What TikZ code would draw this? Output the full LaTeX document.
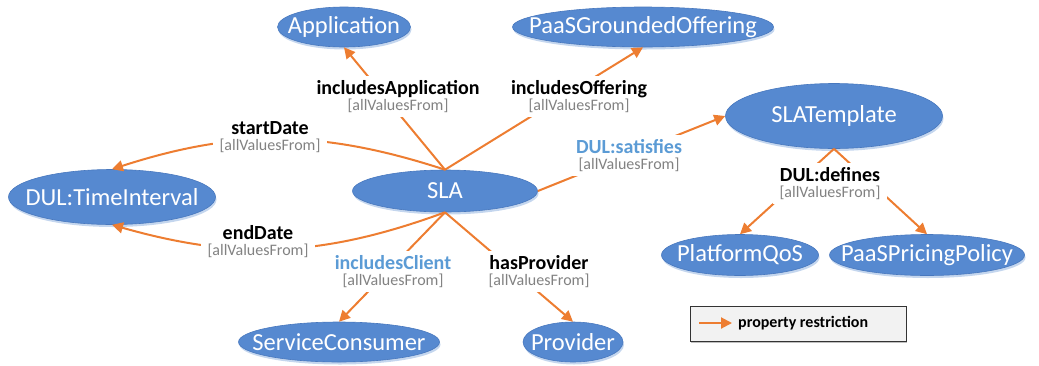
\documentclass[tikz,border=0pt]{standalone}
\usepackage{fontspec}
\setmainfont{Carlito}
\usetikzlibrary{shapes.geometric,arrows.meta,shadows}
\definecolor{nodeblue}{RGB}{86,137,208}
\definecolor{nodeedge}{RGB}{72,120,190}
\definecolor{shadowblue}{RGB}{196,214,238}
\definecolor{relorange}{RGB}{237,125,49}
\definecolor{lblgray}{RGB}{130,130,130}
\definecolor{lblblue}{RGB}{91,155,213}
\definecolor{leggray}{RGB}{242,242,242}
\newcommand{\plab}[3][black]{{\color{#1}\bfseries\fontsize{20}{16}\selectfont #2}\\{\color{lblgray}#3}}
\tikzset{
 cls/.style={ellipse, fill=nodeblue, draw=nodeedge, line width=0.6pt, inner sep=0pt,
   drop shadow={shadow xshift=1pt, shadow yshift=-2.5pt, fill=shadowblue, opacity=1}},
 clstext/.style={text=white, inner sep=0pt, font=\fontsize{24.5}{28}\selectfont},
 rel/.style={draw=relorange, line width=2pt, -{Triangle[length=11pt,width=11pt]}},
 plbl/.style={fill=white, inner xsep=7pt, inner ysep=4pt, align=center, font=\fontsize{16}{16}\selectfont},
 legbox/.style={draw=black!80, fill=leggray, line width=0.8pt, minimum width=216pt, minimum height=35pt, inner sep=0pt,
   drop shadow={shadow xshift=1pt, shadow yshift=-1.5pt, fill=black!25, opacity=1}},
 legtext/.style={font=\bfseries\fontsize{16}{18}\selectfont, inner sep=0pt, anchor=west},
}
\begin{document}
\begin{tikzpicture}[x=1pt,y=-1pt]
\useasboundingbox (0,0) rectangle (1039,365);
% classes
\node[cls, minimum width=133pt, minimum height=40pt, label={[clstext]center:Application}] (app) at (344,27) {};
\node[cls, minimum width=261pt, minimum height=40pt, label={[clstext]center:PaaSGroundedOffering}] (off) at (643,27) {};
\node[cls, minimum width=217pt, minimum height=65pt, label={[clstext]center:SLATemplate}] (tmpl) at (834,116) {};
\node[cls, minimum width=207pt, minimum height=55pt, label={[clstext]center:DUL:TimeInterval}] (ti) at (112,197) {};
\node[cls, minimum width=185pt, minimum height=42pt, label={[clstext]center:SLA}] (sla) at (445,191) {};
\node[cls, minimum width=201pt, minimum height=40pt, label={[clstext]center:ServiceConsumer}] (sc) at (339,342) {};
\node[cls, minimum width=100pt, minimum height=40pt, label={[clstext]center:Provider}] (prov) at (573,342) {};
\node[cls, minimum width=157pt, minimum height=41pt, label={[clstext]center:PlatformQoS}] (qos) at (740,255) {};
\node[cls, minimum width=195pt, minimum height=41pt, label={[clstext]center:PaaSPricingPolicy}] (pp) at (927,255) {};
% relations
\draw[rel] (sla.north) -- (app.south);
\draw[rel] (sla.north) -- (off.south);
\draw[rel] (sla.north) to[bend right=18] (ti.north);
\draw[rel] (sla.south) to[bend left=18] (ti.south);
\draw[rel] (sla.south) -- (sc.north);
\draw[rel] (sla.south) -- (prov.north);
\draw[rel] (sla.east) -- (tmpl.west);
\draw[rel] (tmpl.south) -- (qos.north);
\draw[rel] (tmpl.south) -- (pp.north);
% labels
\node[plbl] (lapp) at (398,96.5) {\plab{includesApplication}{[allValuesFrom]}};
\node[plbl] (loff) at (579,96.5) {\plab{includesOffering}{[allValuesFrom]}};
\node[plbl] (lsd) at (270,137.5) {\plab{startDate}{[allValuesFrom]}};
\node[plbl] (lsat) at (629,155.5) {\plab[lblblue]{DUL:satisfies}{[allValuesFrom]}};
\node[plbl] (ldef) at (830,183.5) {\plab{DUL:defines}{[allValuesFrom]}};
\node[plbl] (led) at (258,241.5) {\plab{endDate}{[allValuesFrom]}};
\node[plbl] (lcl) at (393,271.5) {\plab[lblblue]{includesClient}{[allValuesFrom]}};
\node[plbl] (lpr) at (539,271.5) {\plab{hasProvider}{[allValuesFrom]}};
% legend
\node[legbox] (leg) at (798,323.5) {};
\coordinate (legA) at (699,323);
\coordinate (legB) at (732,323);
\draw[rel] (legA) -- (legB);
\node[legtext] (legt) at (738,323) {property restriction};
\end{tikzpicture}
\end{document}
